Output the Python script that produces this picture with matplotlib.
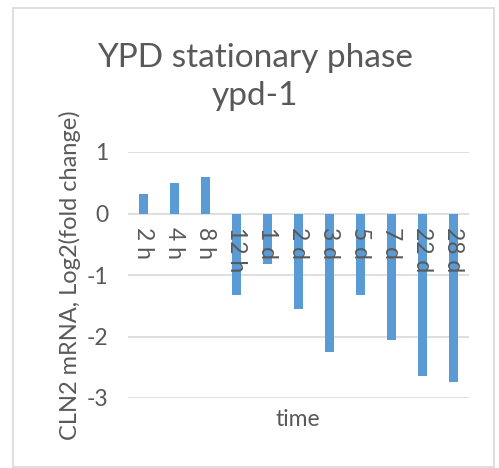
"""YPD stationary phase, CLN2 mRNA bar chart"""
import numpy as np
import matplotlib
matplotlib.use('Agg')
import matplotlib.pyplot as plt
from matplotlib.patches import Rectangle

plt.rcParams['font.family'] = ['Lato', 'DejaVu Sans']
plt.rcParams['axes.unicode_minus'] = False

# Data
times = ['2 h', '4 h', '8 h', '12 h', '1 d', '2 d', '3 d', '5 d', '7 d', '22 d', '28 d']
log2_fc = [0.31, 0.49, 0.59, -1.32, -0.82, -1.56, -2.25, -1.32, -2.06, -2.64, -2.74]
yticks = [-3, -2, -1, 0, 1]

grey = '#595959'
blue = '#5B9BD5'

fig = plt.figure(figsize=(4.99, 4.68), dpi=100)
ax = fig.add_axes([128 / 499, 1 - 398 / 468, 341 / 499, (398 - 152) / 468])

x = np.arange(len(times))
ax.bar(x, log2_fc, width=0.32, color=blue, zorder=2)

ax.set_xlim(-0.5, len(times) - 0.5)
ax.set_ylim(-3, 1)
ax.set_yticks(yticks)
ax.yaxis.grid(True, color='#D9D9D9', linewidth=1.2)
ax.yaxis.set_zorder(0.5)
ax.tick_params(axis='y', length=0, labelsize=16.5, labelcolor=grey, pad=14)

# category labels next to the zero line, drawn over the bars
ax.spines['bottom'].set_position(('data', 0))
ax.set_xticks(x)
ax.set_xticklabels(times, rotation=270, ha='center', va='top')
ax.xaxis.set_zorder(5)
ax.tick_params(axis='x', length=0, labelsize=16.5, labelcolor=grey, pad=10)
for s in ['top', 'right', 'left', 'bottom']:
    ax.spines[s].set_visible(False)

ax.set_ylabel('CLN2 mRNA, Log2(fold change)', fontsize=17, color=grey, labelpad=4)
fig.text(298 / 499, 1 - 419 / 468, 'time', fontsize=16.5, color=grey,
         ha='center', va='center')
fig.text(255 / 499, 1 - 77 / 468, 'YPD stationary phase\nypd-1', fontsize=24,
         color=grey, ha='center', va='center', linespacing=1.35)

# chart border
fig.patches.append(Rectangle((13 / 499, 1 / 468), 481 / 499, 459 / 468,
                             transform=fig.transFigure, fill=False,
                             edgecolor='#D9D9D9', linewidth=1.2))

fig.savefig('out.png', dpi=100)
